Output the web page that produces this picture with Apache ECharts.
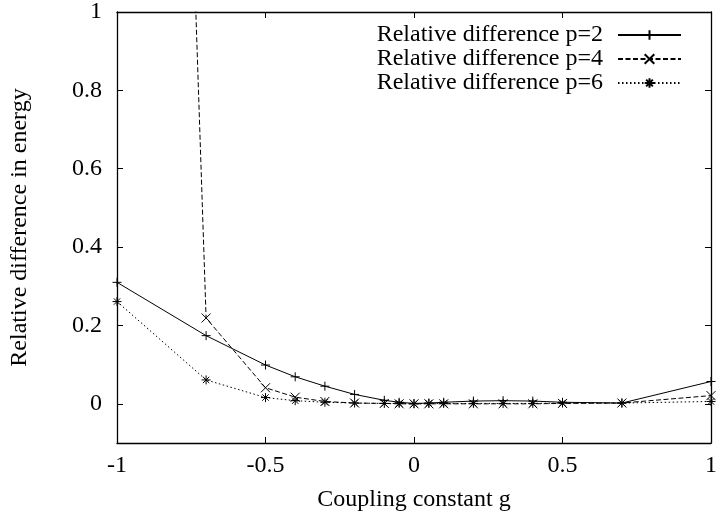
<!DOCTYPE html>
<html>
<head>
<meta charset="utf-8">
<script src="https://cdn.jsdelivr.net/npm/echarts@6/dist/echarts.min.js"></script>
<style>
html,body{margin:0;padding:0;background:#fff;}
#chart{width:720px;height:517px;}
</style>
</head>
<body>
<div id="chart"></div>
<script>
// Data
const gValues = [-1, -0.7, -0.5, -0.4, -0.3, -0.2, -0.1, -0.05, 0, 0.05, 0.1, 0.2, 0.3, 0.4, 0.5, 0.7, 1];
const relDiffP2 = [0.31, 0.174, 0.099, 0.069, 0.045, 0.024, 0.009, 0.004, 0.001, 0.002, 0.004, 0.007, 0.008, 0.007, 0.004, 0.002, 0.057];
const relDiffP4 = [7.0, 0.219, 0.041, 0.017, 0.006, 0.002, 0.001, 0.000, 0.000, 0.000, 0.000, 0.000, 0.000, 0.000, 0.001, 0.002, 0.021];
const relDiffP6 = [0.261, 0.061, 0.016, 0.008, 0.004, 0.002, 0.001, 0.001, 0.000, 0.001, 0.001, 0.001, 0.001, 0.001, 0.002, 0.002, 0.006];
const seriesNames = ['Relative difference p=2', 'Relative difference p=4', 'Relative difference p=6'];
const yTickValues = [0, 0.2, 0.4, 0.6, 0.8, 1];
const xTitle = 'Coupling constant g';
const yTitle = 'Relative difference in energy';

const FONT = 'Liberation Serif';
const FS = 24;
const plusSym = 'path://M0,5 L10,5 M5,0 L5,10';
const crossSym = 'path://M1,1 L9,9 M9,1 L1,9';
const starSym = 'path://M0,5 L10,5 M5,0 L5,10 M1.5,1.5 L8.5,8.5 M8.5,1.5 L1.5,8.5';

function pairs(xs, ys){ return xs.map((x,i)=>[x, ys[i]]); }

const chart = echarts.init(document.getElementById('chart'), null, {renderer:'canvas'});
const axisLine = {show:true, onZero:false, lineStyle:{color:'#000', width:1.3}};
const tick = {show:true, inside:true, length:6, lineStyle:{color:'#000', width:1}};

function mkSeries(name, data, sym, dash){
  return {
    name: name, type:'line', data: data, xAxisIndex:0, yAxisIndex:0,
    symbol: sym, symbolSize: 9, showSymbol:true, clip:true,
    lineStyle:{color:'#000', width:1, type: dash},
    itemStyle:{color:'#000', borderColor:'#000', borderWidth:1},
    emphasis:{disabled:true}, animation:false
  };
}

chart.setOption({
  animation:false,
  backgroundColor:'#fff',
  textStyle:{fontFamily:FONT},
  grid:{left:115, right:6, top:12, bottom:72, containLabel:false},
  legend:{
    show:true, orient:'vertical', right:33, top:18, align:'right',
    itemWidth:63, itemHeight:12, itemGap:0,
    textStyle:{fontFamily:FONT, fontSize:FS, color:'#000', lineHeight:24, padding:[0,10,0,0]},
    data: seriesNames
  },
  xAxis:[
    {type:'value', position:'bottom', min:-1, max:1, interval:0.5,
     axisLine:axisLine, axisTick:tick, splitLine:{show:false},
     axisLabel:{fontFamily:FONT, fontSize:FS, color:'#000', margin:11},
     name:xTitle, nameLocation:'middle', nameGap:45,
     nameTextStyle:{fontFamily:FONT, fontSize:FS, color:'#000'}},
    {type:'value', position:'top', min:-1, max:1, interval:0.5,
     axisLine:axisLine, axisTick:tick, splitLine:{show:false}, axisLabel:{show:false}}
  ],
  yAxis:[
    {type:'value', position:'left', min:-0.1, max:1,
     axisLine:axisLine, axisTick:Object.assign({}, tick, {customValues:yTickValues}), splitLine:{show:false},
     axisLabel:{fontFamily:FONT, fontSize:FS, color:'#000', margin:15, customValues:yTickValues},
     name:yTitle, nameLocation:'middle', nameGap:85, nameRotate:90,
     nameTextStyle:{fontFamily:FONT, fontSize:FS, color:'#000'}},
    {type:'value', position:'right', min:-0.1, max:1,
     axisLine:axisLine, axisTick:Object.assign({}, tick, {customValues:yTickValues}), splitLine:{show:false},
     axisLabel:{show:false}}
  ],
  series:[
    mkSeries(seriesNames[0], pairs(gValues, relDiffP2), plusSym, 'solid'),
    mkSeries(seriesNames[1], pairs(gValues, relDiffP4), crossSym, [5,2.5]),
    mkSeries(seriesNames[2], pairs(gValues, relDiffP6), starSym, [1.5,2.5])
  ]
});
</script>
</body>
</html>
